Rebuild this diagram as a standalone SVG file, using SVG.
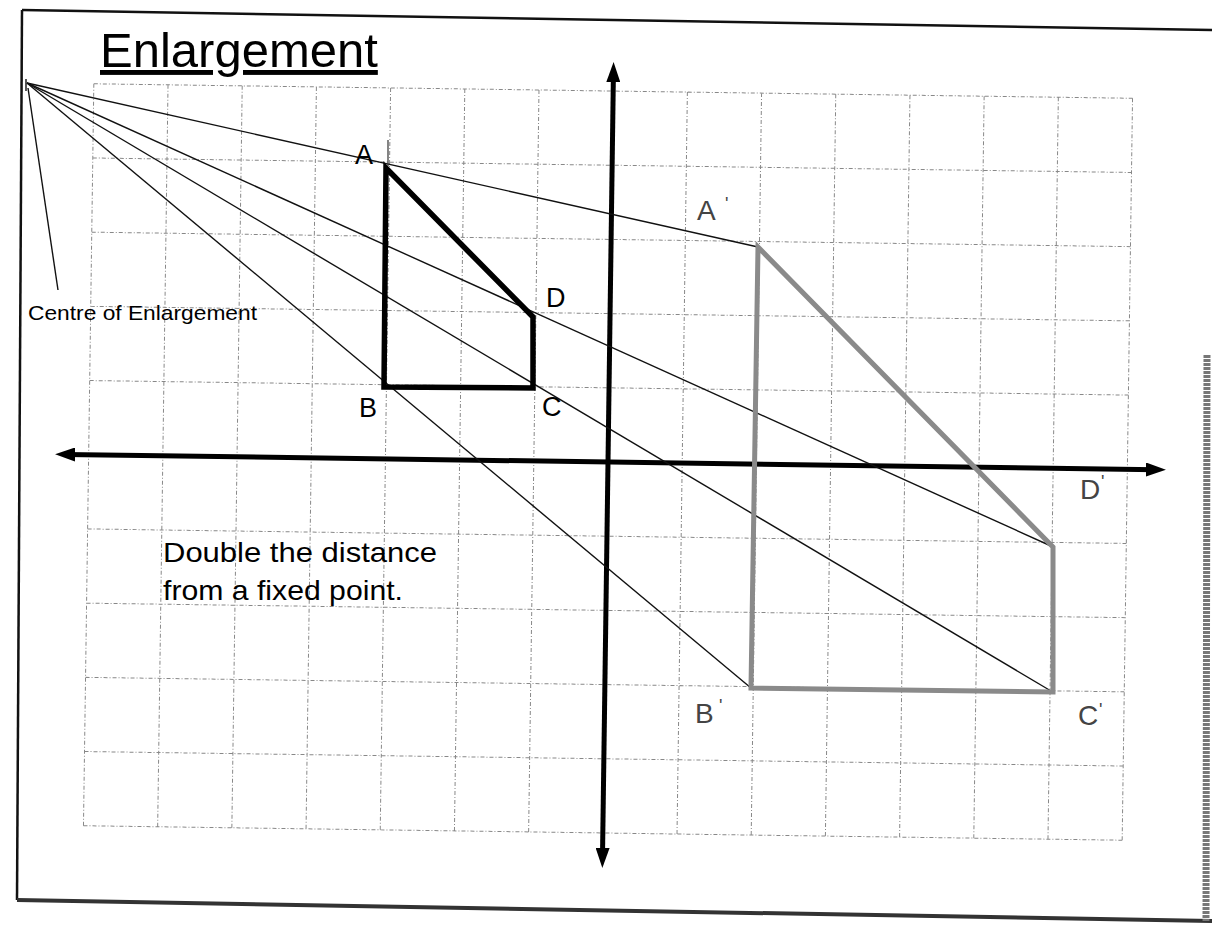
<svg xmlns="http://www.w3.org/2000/svg" width="1212" height="926" viewBox="0 0 1212 926">
<style>
text{font-family:"Liberation Sans",Arial,sans-serif;fill:#000}
.grid{stroke:#888;stroke-width:1;stroke-dasharray:4 2 1 2;fill:none}
.axis{stroke:#000;stroke-width:5;fill:none}
.ray{stroke:#111;stroke-width:1.4;fill:none}
.shape{fill:none;stroke:#000;stroke-width:5.5;stroke-linejoin:miter}
.big{fill:none;stroke:#8a8a8a;stroke-width:5;stroke-linejoin:miter}
.lbl{font-size:27px}
.plbl{font-size:28px;fill:#444}
.prime{font-size:18px;fill:#444}
</style>
<defs>
<marker id="arr" viewBox="0 0 20 14" refX="10" refY="7" markerWidth="20" markerHeight="14" markerUnits="userSpaceOnUse" orient="auto-start-reverse">
<path d="M0,0 L20,7 L0,14 Z" fill="#000"/>
</marker>
</defs>
<rect width="1212" height="926" fill="#fff"/>
<g id="frame">
<line x1="22" y1="10" x2="1212" y2="30" stroke="#111" stroke-width="2.5"/>
<line x1="22" y1="10" x2="17" y2="900" stroke="#111" stroke-width="2.5"/>
<line x1="17" y1="900" x2="1212" y2="921" stroke="#333" stroke-width="4"/>
<line x1="1207" y1="355" x2="1206" y2="921" stroke="#777" stroke-width="7" stroke-dasharray="3 1"/>
</g>
<text id="title" x="100" y="67" font-size="49" text-decoration="underline">Enlargement</text>
<g id="plane" transform="rotate(0.8 608 462)">
<path class="grid" d="M88.6,91V833 M162.8,91V833 M237,91V833 M311.2,91V833 M385.4,91V833 M459.6,91V833 M533.8,91V833 M682.2,91V833 M756.4,91V833 M830.6,91V833 M904.8,91V833 M979,91V833 M1053.2,91V833 M1127.4,91V833 M88.6,91H1127.4 M88.6,165.2H1127.4 M88.6,239.4H1127.4 M88.6,313.6H1127.4 M88.6,387.8H1127.4 M88.6,536.2H1127.4 M88.6,610.4H1127.4 M88.6,684.6H1127.4 M88.6,758.8H1127.4 M88.6,833H1127.4"/>
<line class="axis" x1="65" y1="462" x2="1156" y2="462" marker-start="url(#arr)" marker-end="url(#arr)"/>
<line class="axis" x1="608" y1="72" x2="608" y2="858" marker-start="url(#arr)" marker-end="url(#arr)"/>
</g>
<g id="connectors">
<line class="ray" x1="27" y1="83" x2="758" y2="247"/>
<line class="ray" x1="27" y1="83" x2="1051" y2="546"/>
<line class="ray" x1="27" y1="83" x2="1051" y2="691"/>
<line class="ray" x1="27" y1="83" x2="751" y2="688"/>
<line class="ray" x1="28" y1="88" x2="58" y2="290"/>
<line class="ray" x1="26" y1="79" x2="26" y2="91"/>
</g>
<g id="original">
<path class="shape" d="M386,168 L533,317 L533,388 L384,387 Z"/>
<line x1="388" y1="140" x2="388" y2="166" stroke="#333" stroke-width="1.2"/>
</g>
<g id="image">
<path class="big" d="M758,247 L1053,547 L1053,692 L751,688 Z"/>
</g>
<g id="labels">
<text class="lbl" x="355" y="164">A</text>
<text class="lbl" x="546" y="307">D</text>
<text class="lbl" x="359" y="417">B</text>
<text class="lbl" x="542" y="416">C</text>
<text class="plbl" x="697" y="220">A<tspan class="prime" x="725" y="210">'</tspan></text>
<text class="plbl" x="1080" y="499">D<tspan class="prime" x="1101" y="488">'</tspan></text>
<text class="plbl" x="1078" y="725">C<tspan class="prime" x="1099" y="716">'</tspan></text>
<text class="plbl" x="695" y="723">B<tspan class="prime" x="719" y="712">'</tspan></text>
<text id="centre" x="28" y="320" font-size="21" fill="#333" textLength="229" lengthAdjust="spacingAndGlyphs">Centre of Enlargement</text>
<text x="163" y="562" font-size="28" textLength="274" lengthAdjust="spacingAndGlyphs">Double the distance</text>
<text x="163" y="600" font-size="28" textLength="240" lengthAdjust="spacingAndGlyphs">from a fixed point.</text>
</g>
</svg>
